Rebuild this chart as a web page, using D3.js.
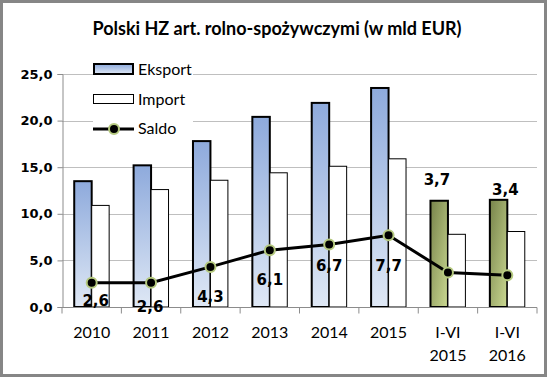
<!DOCTYPE html>
<html>
<head>
<meta charset="utf-8">
<script src="https://cdn.jsdelivr.net/npm/d3@7"></script>
<style>
	body { margin: 0; background: #fff; }
	svg { display: block; }
</style>
</head>
<body>
<svg id="chart" width="547" height="377"></svg>
<script>
const categories = ['2010', '2011', '2012', '2013', '2014', '2015', 'I-VI\n2015', 'I-VI\n2016'];
const eksport = [13.5, 15.2, 17.8, 20.4, 21.9, 23.5, 11.4, 11.5];
const importy = [10.9, 12.6, 13.6, 14.4, 15.1, 15.9, 7.8, 8.1];
const saldo = [2.6, 2.6, 4.3, 6.1, 6.7, 7.7, 3.7, 3.4];
const yTicks = [0, 5, 10, 15, 20, 25];
const seriesNames = ['Eksport', 'Import', 'Saldo'];
const title = 'Polski HZ art. rolno-spożywczymi (w mld EUR)';

// label placement around saldo points (px)
const labelShift = [[4, 23], [-1, 29], [0, 35], [0, 35], [0, 26], [0, 36], [-11, -88], [-2, -80]];

const W = 547, H = 377;
const plot = {left: 62, right: 537, top: 74, bottom: 307};
const svg = d3.select('#chart');
const defs = svg.append('defs');

const blue = defs.append('linearGradient').attr('id', 'gBlue')
	.attr('x1', 0).attr('y1', 0).attr('x2', 0).attr('y2', 1);
blue.append('stop').attr('offset', '0%').attr('stop-color', '#8eaadc');
blue.append('stop').attr('offset', '100%').attr('stop-color', '#dfe8f5');

const green = defs.append('linearGradient').attr('id', 'gGreen')
	.attr('x1', 0).attr('y1', 0).attr('x2', 1).attr('y2', 1);
green.append('stop').attr('offset', '0%').attr('stop-color', '#77834a');
green.append('stop').attr('offset', '100%').attr('stop-color', '#cbd992');

const fmt = v => d3.format('.1f')(v).replace('.', ',');

const x = d3.scaleBand().domain(categories).range([plot.left, plot.right]);
const x1 = d3.scaleBand().domain(['e', 'i']).range([0, x.bandwidth()]).paddingOuter(0.7);
const y = d3.scaleLinear().domain([0, 25]).range([plot.bottom, plot.top]);

// frame
svg.append('rect').attr('x', 1.5).attr('y', 1.5).attr('width', W - 3).attr('height', H - 3)
	.attr('fill', '#fff').attr('stroke', '#868686').attr('stroke-width', 3);

// title
svg.append('text').attr('x', 277).attr('y', 35).attr('text-anchor', 'middle')
	.attr('font-family', 'Lato').attr('font-weight', 'bold').attr('font-size', 18)
	.text(title);

// grid
svg.append('g').selectAll('line').data(yTicks.filter(d => d > 0)).join('line')
	.attr('x1', plot.left).attr('x2', plot.right)
	.attr('y1', d => Math.round(y(d)) + 0.5).attr('y2', d => Math.round(y(d)) + 0.5)
	.attr('stroke', '#bfbfbf').attr('stroke-width', 1);

// y axis
const yAxis = svg.append('g').attr('transform', `translate(${plot.left + 0.5},0)`)
	.call(d3.axisLeft(y).tickValues(yTicks).tickFormat(fmt).tickSize(5).tickPadding(5));
yAxis.select('.domain').attr('stroke', '#8c8c8c');
yAxis.selectAll('.tick line').attr('stroke', '#8c8c8c');
yAxis.selectAll('.tick text').attr('font-family', 'DejaVu Sans').attr('font-weight', 'bold')
	.attr('font-size', 13).attr('fill', '#000');

// bars
const groups = svg.append('g').selectAll('g').data(categories).join('g')
	.attr('transform', d => `translate(${x(d)},0)`);

groups.append('rect')
	.attr('x', x1('e')).attr('width', x1.bandwidth())
	.attr('y', (d, i) => y(eksport[i])).attr('height', (d, i) => y(0) - y(eksport[i]))
	.attr('fill', (d, i) => i >= 6 ? 'url(#gGreen)' : 'url(#gBlue)')
	.attr('stroke', '#000').attr('stroke-width', 2);

groups.append('rect')
	.attr('x', x1('i')).attr('width', x1.bandwidth())
	.attr('y', (d, i) => y(importy[i])).attr('height', (d, i) => y(0) - y(importy[i]))
	.attr('fill', '#fff').attr('stroke', '#000').attr('stroke-width', 1);

// x axis
const xAxis = svg.append('g').attr('transform', `translate(0,${plot.bottom + 0.5})`);
xAxis.append('line').attr('x1', plot.left).attr('x2', plot.right).attr('stroke', '#8c8c8c');
xAxis.selectAll('line.tk').data(d3.range(categories.length + 1)).join('line').attr('class', 'tk')
	.attr('x1', i => plot.left + i * x.step()).attr('x2', i => plot.left + i * x.step())
	.attr('y1', 0).attr('y2', 6).attr('stroke', '#8c8c8c');
xAxis.selectAll('text').data(categories).join('text')
	.attr('text-anchor', 'middle').attr('font-family', 'Lato').attr('font-size', 16)
	.attr('transform', d => `translate(${x(d) + x.bandwidth() / 2},30)`)
	.selectAll('tspan').data(d => d.split('\n')).join('tspan')
	.attr('x', 0).attr('y', (d, i) => i * 23).text(d => d);

// saldo line
const cx = (d, i) => x(categories[i]) + x.bandwidth() / 2;
const line = d3.line().x(cx).y(d => y(d));
svg.append('path').datum(saldo).attr('d', line)
	.attr('fill', 'none').attr('stroke', '#000').attr('stroke-width', 3);
svg.append('g').selectAll('circle').data(saldo).join('circle')
	.attr('cx', cx).attr('cy', d => y(d)).attr('r', 5)
	.attr('fill', '#000').attr('stroke', '#b5c97f').attr('stroke-width', 2);

svg.append('g').selectAll('text').data(saldo).join('text')
	.attr('x', (d, i) => cx(d, i) + labelShift[i][0])
	.attr('y', (d, i) => y(d) + labelShift[i][1])
	.attr('text-anchor', 'middle').attr('font-family', 'DejaVu Sans').attr('font-weight', 'bold')
	.attr('font-size', 15).text(fmt);

// legend
const legend = svg.append('g').attr('transform', 'translate(93,0)');
legend.append('rect').attr('x', 0).attr('y', 59).attr('width', 100).attr('height', 80).attr('fill', '#fff');
legend.append('rect').attr('x', 1).attr('y', 64).attr('width', 39).attr('height', 10)
	.attr('fill', 'url(#gBlue)').attr('stroke', '#000').attr('stroke-width', 2);
legend.append('rect').attr('x', 0.5).attr('y', 94.5).attr('width', 40).attr('height', 9)
	.attr('fill', '#fff').attr('stroke', '#000').attr('stroke-width', 1);
legend.append('line').attr('x1', 0).attr('x2', 41).attr('y1', 129).attr('y2', 129)
	.attr('stroke', '#000').attr('stroke-width', 3);
legend.append('circle').attr('cx', 21).attr('cy', 129).attr('r', 5)
	.attr('fill', '#000').attr('stroke', '#b5c97f').attr('stroke-width', 2);
legend.selectAll('text').data(seriesNames).join('text')
	.attr('x', 45).attr('y', (d, i) => 75 + i * 29.5)
	.attr('font-family', 'Lato').attr('font-size', 16).text(d => d);
</script>
</body>
</html>
